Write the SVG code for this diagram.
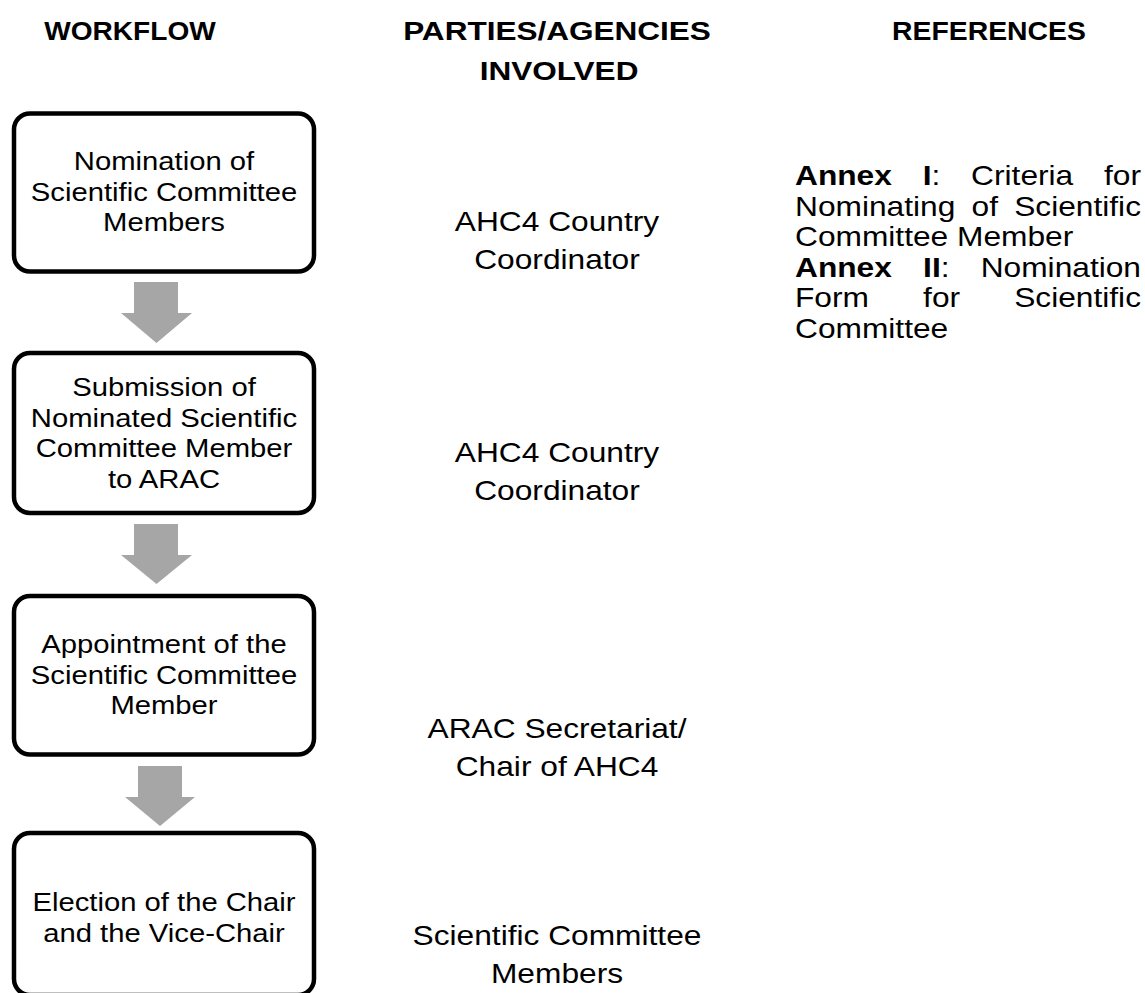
<svg xmlns="http://www.w3.org/2000/svg" width="1145" height="993" viewBox="0 0 1145 993">
<style>
.bg{fill:#fff}
.box{fill:#fff;stroke:#000;stroke-width:4.5}
.arr{fill:#a6a6a6}
text{font-family:"Liberation Sans",Arial,sans-serif;fill:#000}
.h{font-weight:bold;font-size:26.5px;text-anchor:middle}
.bt{font-size:25px;text-anchor:middle}
.mt{font-size:27.1px;text-anchor:middle}
.rt{font-size:27.1px}
.b{font-weight:bold}
.e{text-anchor:end}
</style>
<rect class="bg" width="1145" height="993"/>
<g id="headers">
<text class="h" transform="translate(130,40) scale(1.06,1)">WORKFLOW</text>
<text class="h" transform="translate(557,40) scale(1.19,1)">PARTIES/AGENCIES</text>
<text class="h" transform="translate(559,80) scale(1.19,1)">INVOLVED</text>
<text class="h" transform="translate(989,40) scale(1.07,1)">REFERENCES</text>
</g>
<g id="connectors">
<polygon class="arr" points="134,282 178,282 178,313 192,313 156.5,343 121,313 134,313"/>
<polygon class="arr" points="134,524 178,524 178,555 192,555 156.5,584 121,555 134,555"/>
<polygon class="arr" points="138,766 182,766 182,797 195,797 160,826 125,797 138,797"/>
</g>
<g id="step1">
<rect class="box" x="14" y="113.5" width="300" height="158" rx="16"/>
<text class="bt" transform="translate(164,170) scale(1.17,1)">Nomination of</text>
<text class="bt" transform="translate(164,200.5) scale(1.17,1)">Scientific Committee</text>
<text class="bt" transform="translate(164,231) scale(1.17,1)">Members</text>
</g>
<g id="step2">
<rect class="box" x="14" y="353" width="300" height="160" rx="16"/>
<text class="bt" transform="translate(164,396) scale(1.17,1)">Submission of</text>
<text class="bt" transform="translate(164,426.5) scale(1.17,1)">Nominated Scientific</text>
<text class="bt" transform="translate(164,457) scale(1.17,1)">Committee Member</text>
<text class="bt" transform="translate(164,487.5) scale(1.17,1)">to ARAC</text>
</g>
<g id="step3">
<rect class="box" x="14" y="596" width="300" height="158.5" rx="16"/>
<text class="bt" transform="translate(164,653) scale(1.17,1)">Appointment of the</text>
<text class="bt" transform="translate(164,683.5) scale(1.17,1)">Scientific Committee</text>
<text class="bt" transform="translate(164,714) scale(1.17,1)">Member</text>
</g>
<g id="step4">
<rect class="box" x="14" y="833" width="300" height="162" rx="16"/>
<text class="bt" transform="translate(164,910.5) scale(1.17,1)">Election of the Chair</text>
<text class="bt" transform="translate(164,941.5) scale(1.17,1)">and the Vice-Chair</text>
</g>
<g id="party1">
<text class="mt" transform="translate(557,231) scale(1.17,1)">AHC4 Country</text>
<text class="mt" transform="translate(557,269) scale(1.17,1)">Coordinator</text>
</g>
<g id="party2">
<text class="mt" transform="translate(557,462) scale(1.17,1)">AHC4 Country</text>
<text class="mt" transform="translate(557,500) scale(1.17,1)">Coordinator</text>
</g>
<g id="party3">
<text class="mt" transform="translate(557,738) scale(1.17,1)">ARAC Secretariat/</text>
<text class="mt" transform="translate(557,776) scale(1.17,1)">Chair of AHC4</text>
</g>
<g id="party4">
<text class="mt" transform="translate(557,945) scale(1.17,1)">Scientific Committee</text>
<text class="mt" transform="translate(557,983) scale(1.17,1)">Members</text>
</g>
<g id="references">
<text class="rt" transform="translate(795,185) scale(1.17,1)"><tspan class="b">Annex</tspan></text>
<text class="rt" transform="translate(922.7,185) scale(1.17,1)"><tspan class="b">I</tspan>:</text>
<text class="rt" transform="translate(971.1,185) scale(1.17,1)">Criteria</text>
<text class="rt e" transform="translate(1141,185) scale(1.17,1)">for</text>
<text class="rt" transform="translate(795,215.6) scale(1.17,1)">Nominating</text>
<text class="rt" transform="translate(971.5,215.6) scale(1.17,1)">of</text>
<text class="rt e" transform="translate(1141,215.6) scale(1.17,1)">Scientific</text>
<text class="rt" transform="translate(795,246.2) scale(1.17,1)">Committee Member</text>
<text class="rt" transform="translate(795,276.8) scale(1.17,1)"><tspan class="b">Annex</tspan></text>
<text class="rt" transform="translate(923.1,276.8) scale(1.17,1)"><tspan class="b">II</tspan>:</text>
<text class="rt e" transform="translate(1141,276.8) scale(1.17,1)">Nomination</text>
<text class="rt" transform="translate(795,307.4) scale(1.17,1)">Form</text>
<text class="rt" transform="translate(923.1,307.4) scale(1.17,1)">for</text>
<text class="rt e" transform="translate(1141,307.4) scale(1.17,1)">Scientific</text>
<text class="rt" transform="translate(795,338) scale(1.17,1)">Committee</text>
</g>
</svg>
